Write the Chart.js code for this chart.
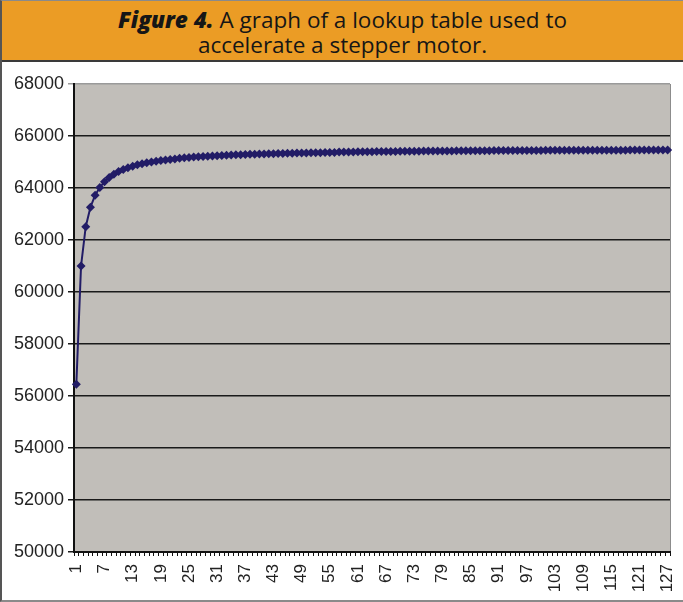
<!DOCTYPE html>
<html>
<head>
<meta charset="utf-8">
<script src="https://cdn.jsdelivr.net/npm/chart.js@4.4.1/dist/chart.umd.min.js"></script>
<style>
  html, body { margin: 0; padding: 0; background: #fff; }
  #fig {
    position: relative;
    width: 683px;
    height: 602px;
    box-sizing: border-box;
    border-top: 1px solid #8a8a8a;
    border-left: 2px solid #555;
    border-bottom: 2px solid #8a8a8a;
    overflow: hidden;
  }
  #banner {
    height: 61px;
    background: #eb9c25;
    border-bottom: 2px solid #3a3a3a;
    text-align: center;
    font-family: "Open Sans", sans-serif;
    font-size: 22.5px;
    line-height: 25px;
    color: #161616;
    padding-top: 6px;
    box-sizing: border-box;
  }
  #banner b { font-style: italic; font-weight: 800; }
  #wrap {
    position: absolute;
    left: 0;
    top: 62px;
    width: 681px;
    height: 536px;
  }
</style>
</head>
<body>
<div id="fig">
  <div id="banner"><b>Figure 4.</b> A graph of a lookup table used to<br>accelerate a stepper motor.</div>
  <div id="wrap"><canvas id="lookup-chart"></canvas></div>
</div>
<script>
// step index 1..127
const steps = [];
for (let i = 1; i <= 127; i++) steps.push(String(i));

// values
const delays = [
  56450, 61000, 62510, 63260, 63720, 64020, 64240, 64400, 64530, 64630,
  64710, 64780, 64840, 64890, 64930, 64970, 65000, 65030, 65060, 65080,
  65100, 65120, 65140, 65160, 65170, 65190, 65200, 65210, 65220, 65230,
  65240, 65250, 65260, 65270, 65280, 65280, 65290, 65300, 65300, 65310,
  65310, 65320, 65320, 65330, 65330, 65340, 65340, 65350, 65350, 65350,
  65360, 65360, 65360, 65370, 65370, 65370, 65380, 65380, 65380, 65380,
  65390, 65390, 65390, 65390, 65400, 65400, 65400, 65400, 65400, 65410,
  65410, 65410, 65410, 65410, 65420, 65420, 65420, 65420, 65420, 65420,
  65420, 65430, 65430, 65430, 65430, 65430, 65430, 65430, 65430, 65440,
  65440, 65440, 65440, 65440, 65440, 65440, 65440, 65440, 65440, 65440,
  65450, 65450, 65450, 65450, 65450, 65450, 65450, 65450, 65450, 65450,
  65450, 65450, 65450, 65450, 65450, 65450, 65450, 65450, 65460, 65460,
  65460, 65460, 65460, 65460, 65460, 65460, 65460
];

const yMin = 50000;
const yMax = 68000;
const yStep = 2000;

const lineColor = "#221c66";
const plotGrey = "#c1beb9";

const plotBackground = {
  id: "plotBackground",
  beforeDraw(chart) {
    const { ctx, chartArea } = chart;
    ctx.save();
    ctx.fillStyle = plotGrey;
    ctx.fillRect(chartArea.left, chartArea.top, chartArea.width, chartArea.height);
    ctx.strokeStyle = "#8c8c8c";
    ctx.lineWidth = 1;
    ctx.beginPath();
    ctx.moveTo(chartArea.right + 0.5, chartArea.top);
    ctx.lineTo(chartArea.right + 0.5, chartArea.bottom);
    ctx.stroke();
    ctx.restore();
  },
};

const ctx = document.getElementById("lookup-chart").getContext("2d");

new Chart(ctx, {
  type: "line",
  data: {
    labels: steps,
    datasets: [
      {
        data: delays,
        borderColor: lineColor,
        backgroundColor: lineColor,
        borderWidth: 2,
        pointStyle: "rectRot",
        pointRadius: 4.5,
        pointBorderWidth: 0,
        tension: 0,
      },
    ],
  },
  options: {
    responsive: true,
    maintainAspectRatio: false,
    animation: false,
    layout: { padding: { top: 21, right: 13, left: 0, bottom: 0 } },
    plugins: {
      legend: { display: false },
      tooltip: { enabled: false },
    },
    scales: {
      x: {
        type: "category",
        offset: true,
        border: { color: "#111", width: 2 },
        grid: {
          offset: true,
          drawOnChartArea: false,
          drawTicks: true,
          tickLength: 4,
          color: "#111",
        },
        ticks: {
          autoSkip: false,
          minRotation: 90,
          maxRotation: 90,
          padding: 8,
          color: "#222",
          font: { family: "'Liberation Sans', Arial, sans-serif", size: 17 },
          callback(value, index) {
            return index % 6 === 0 ? steps[index] : "";
          },
        },
        afterFit(scale) {
          scale.height = 47;
          scale.paddingLeft = 0;
          scale.paddingRight = 0;
        },
      },
      y: {
        min: yMin,
        max: yMax,
        border: { color: "#111", width: 2 },
        grid: {
          color: (c) => (c.tick && c.tick.value === yMax ? "#9a9a9a" : "#1a1a1a"),
          lineWidth: 1.5,
          tickLength: 6,
        },
        ticks: {
          stepSize: yStep,
          padding: 4,
          color: "#222",
          font: { family: "'Liberation Sans', Arial, sans-serif", size: 18 },
          callback: (v) => String(v),
        },
        afterFit(scale) {
          scale.width = 72;
          scale.paddingTop = 0;
          scale.paddingBottom = 0;
        },
      },
    },
  },
  plugins: [plotBackground],
});
</script>
</body>
</html>
